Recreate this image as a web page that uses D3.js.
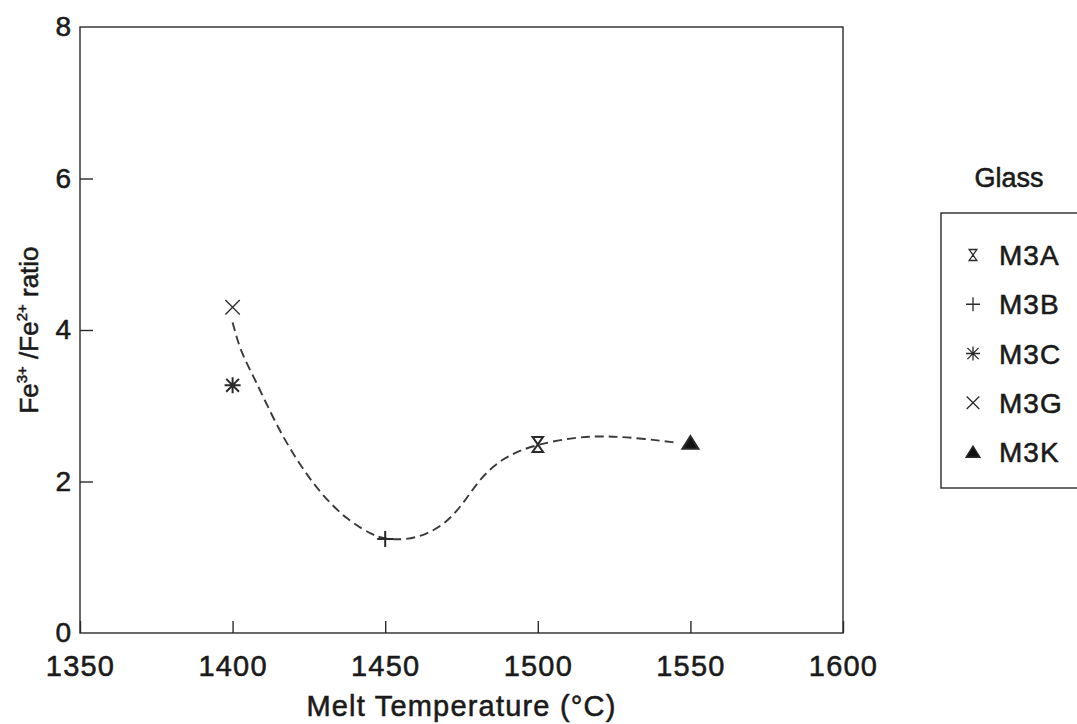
<!DOCTYPE html>
<html>
<head>
<meta charset="utf-8">
<script src="https://cdn.jsdelivr.net/npm/d3@7"></script>
<style>
  body { margin: 0; background: #fff; }
  svg text { font-family: "Liberation Sans", Arial, sans-serif; fill: #1a1a1a; stroke: #1a1a1a; stroke-width: 0.55px; }
</style>
</head>
<body>
<div id="chart"></div>
<script>
// Datos
const glasses = ['M3A', 'M3B', 'M3C', 'M3G', 'M3K'];
const meltTemps = [1500, 1450, 1400, 1400, 1550];
const feRatios = [2.49, 1.24, 3.27, 4.30, 2.51];

// curva ajustada
const curveTemps = [1400, 1402.6, 1407.5, 1414, 1421, 1428.6, 1437.5, 1446, 1450, 1456.5, 1463, 1470, 1476, 1481, 1488.7, 1498.5, 1512.5, 1523, 1534, 1546];
const curveRatios = [4.10, 3.71, 3.34, 2.77, 2.28, 1.85, 1.49, 1.29, 1.24, 1.23, 1.29, 1.45, 1.73, 2.04, 2.32, 2.48, 2.59, 2.60, 2.57, 2.51];

const xTicks = [1350, 1400, 1450, 1500, 1550, 1600];
const yTicks = [0, 2, 4, 6, 8];

const W = 1077, H = 724;
const margin = {left: 80, top: 27, right: W - 843, bottom: H - 633};
const width = W - margin.left - margin.right,
      height = H - margin.top - margin.bottom;

const svg = d3.select('#chart').append('svg')
    .attr('width', W).attr('height', H);

const g = svg.append('g')
    .attr('transform', 'translate(' + margin.left + ',' + margin.top + ')');

const x = d3.scaleLinear().domain([1350, 1600]).range([0, width]);
const y = d3.scaleLinear().domain([0, 8]).range([height, 0]);

const INK = '#2a2a2a';

// marco
g.append('rect')
    .attr('x', 0).attr('y', 0)
    .attr('width', width).attr('height', height)
    .attr('fill', 'none').attr('stroke', INK).attr('stroke-width', 1.4);

// eje x
const xAxis = g.append('g')
    .attr('transform', 'translate(0,' + height + ')')
    .call(d3.axisBottom(x).tickValues(xTicks).tickSizeInner(-12).tickSizeOuter(0).tickPadding(22).tickFormat(d3.format('d')));
xAxis.select('.domain').remove();
xAxis.selectAll('line').attr('stroke', INK).attr('stroke-width', 1.4);
xAxis.selectAll('text').attr('font-size', 29).attr('letter-spacing', 1.2).attr('fill', '#1a1a1a');

// eje y
const yAxis = g.append('g')
    .call(d3.axisLeft(y).tickValues(yTicks).tickSizeInner(-13).tickSizeOuter(0).tickPadding(9));
yAxis.select('.domain').remove();
yAxis.selectAll('line').attr('stroke', INK).attr('stroke-width', 1.4)
    .attr('display', d => (d === 0 || d === 8) ? 'none' : null);
yAxis.selectAll('text').attr('font-size', 28).attr('fill', '#1a1a1a');

// titulos
svg.append('text')
    .attr('x', margin.left + width / 2).attr('y', 716)
    .attr('text-anchor', 'middle').attr('font-size', 29).attr('letter-spacing', 1.2)
    .text('Melt Temperature  (°C)');

const yt = svg.append('text')
    .attr('transform', 'translate(38,' + (margin.top + height / 2) + ') rotate(-90)')
    .attr('text-anchor', 'middle').attr('font-size', 26);
yt.append('tspan').text('Fe');
yt.append('tspan').attr('font-size', 15).attr('dy', -11).text('3+');
yt.append('tspan').attr('dy', 11).text(' /Fe');
yt.append('tspan').attr('font-size', 15).attr('dy', -11).text('2+');
yt.append('tspan').attr('dy', 11).text('  ratio');

// curva
const curveData = curveTemps.map((t, i) => ({t: t, r: curveRatios[i]}));
g.append('path')
    .datum(curveData)
    .attr('fill', 'none')
    .attr('stroke', '#3a3a3a')
    .attr('stroke-width', 1.9)
    .attr('stroke-dasharray', '9,5')
    .attr('d', d3.line().x(d => x(d.t)).y(d => y(d.r)).curve(d3.curveBasis));

// simbolos
function markerPath(name, s) {
    const h = s / 2;
    if (name === 'M3A') {
        const w = h * 0.7;
        return 'M' + (-w) + ',' + (-h) + 'L' + w + ',' + (-h) + 'L' + (-w) + ',' + h + 'L' + w + ',' + h + 'Z';
    }
    if (name === 'M3B') return 'M' + (-h) + ',0L' + h + ',0M0,' + (-h) + 'L0,' + h;
    if (name === 'M3C') {
        const a = h * 0.8;
        return 'M' + (-h) + ',0L' + h + ',0M0,' + (-h) + 'L0,' + h +
            'M' + (-a) + ',' + (-a) + 'L' + a + ',' + a + 'M' + (-a) + ',' + a + 'L' + a + ',' + (-a);
    }
    if (name === 'M3G') {
        const a = h * 0.9;
        return 'M' + (-a) + ',' + (-a) + 'L' + a + ',' + a + 'M' + (-a) + ',' + a + 'L' + a + ',' + (-a);
    }
    // M3K triangulo
    return 'M0,' + (-h * 0.85) + 'L' + h + ',' + (h * 0.75) + 'L' + (-h) + ',' + (h * 0.75) + 'Z';
}
function markerFill(name) { return name === 'M3K' ? '#111' : 'none'; }

const pts = glasses.map((gname, i) => ({name: gname, t: meltTemps[i], r: feRatios[i]}));
g.selectAll('.pt')
    .data(pts)
    .enter()
    .append('path')
    .attr('class', 'pt')
    .attr('transform', d => 'translate(' + x(d.t) + ',' + y(d.r) + ')')
    .attr('d', d => markerPath(d.name, d.name === 'M3A' ? 15 : 16))
    .attr('fill', d => markerFill(d.name))
    .attr('stroke', INK)
    .attr('stroke-width', d => d.name === 'M3G' ? 1.3 : 2);

// leyenda
const lg = svg.append('g');
lg.append('text')
    .attr('x', 1009).attr('y', 187)
    .attr('text-anchor', 'middle').attr('font-size', 27)
    .text('Glass');
lg.append('rect')
    .attr('x', 941).attr('y', 213)
    .attr('width', 160).attr('height', 275)
    .attr('fill', 'none').attr('stroke', INK).attr('stroke-width', 1.4);

const ly = d3.scalePoint().domain(glasses).range([255, 452]);
const items = lg.selectAll('.item')
    .data(glasses)
    .enter()
    .append('g')
    .attr('class', 'item')
    .attr('transform', d => 'translate(0,' + ly(d) + ')');
items.append('path')
    .attr('transform', 'translate(973,0)')
    .attr('d', d => markerPath(d, d === 'M3A' ? 11 : 14))
    .attr('fill', d => markerFill(d))
    .attr('stroke', INK)
    .attr('stroke-width', 1.3);
items.append('text')
    .attr('x', 999).attr('y', 0).attr('dy', '0.36em')
    .attr('font-size', 28).attr('letter-spacing', 1)
    .text(d => d);
</script>
</body>
</html>
